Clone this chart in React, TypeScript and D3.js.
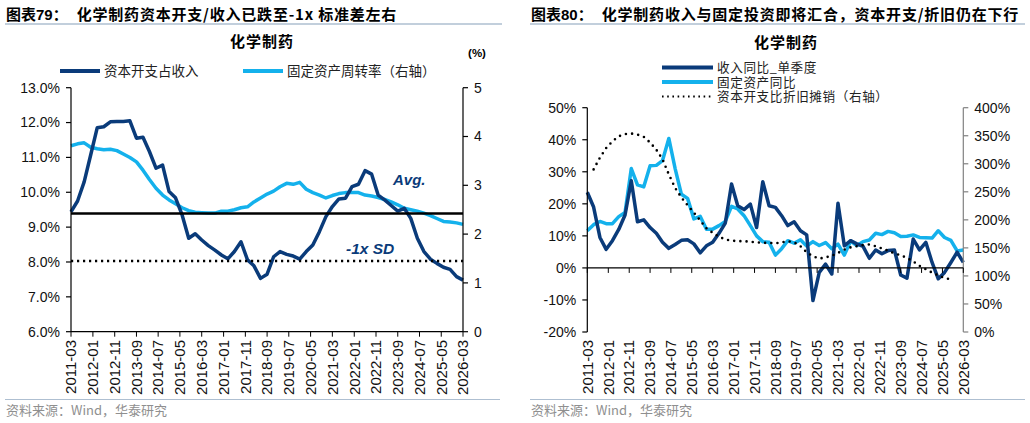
import React from 'react';
import * as d3 from 'd3';

// x-axis tick labels (every 10 months)
const tickLabels = [
  '2011-03', '2012-01', '2012-11', '2013-09', '2014-07', '2015-05', '2016-03',
  '2017-01', '2017-11', '2018-09', '2019-07', '2020-05', '2021-03', '2022-01',
  '2022-11', '2023-09', '2024-07', '2025-05', '2026-03',
];

// quarterly observation dates, 2011-03 .. 2026-03
const quarters = d3.range(61).map((i) => {
  const m = 2 + 3 * i;
  return `${2011 + Math.floor(m / 12)}-${String((m % 12) + 1).padStart(2, '0')}`;
});

// 资本开支占收入 (%)
const capexToRevenue = [
  9.44, 9.75, 10.3, 11.07, 11.85, 11.88, 12.02, 12.03, 12.03, 12.05,
  11.55, 11.58, 11.17, 10.69, 10.78, 10.02, 9.84, 9.35, 8.68, 8.81,
  8.63, 8.47, 8.34, 8.2, 8.09, 8.3, 8.58, 8.06, 7.89, 7.53,
  7.65, 8.15, 8.3, 8.22, 8.17, 8.08, 8.3, 8.49, 8.87, 9.3,
  9.59, 9.81, 9.83, 10.16, 10.23, 10.62, 10.52, 9.92, 9.78, 9.62,
  9.46, 9.54, 9.25, 8.68, 8.3, 8.08, 7.96, 7.85, 7.79, 7.58, 7.48,
];
// 固定资产周转率 (right axis)
const assetTurnover = [
  3.81, 3.85, 3.87, 3.78, 3.75, 3.73, 3.74, 3.71, 3.64, 3.57,
  3.48, 3.31, 3.12, 2.94, 2.8, 2.7, 2.62, 2.54, 2.48, 2.45,
  2.44, 2.43, 2.43, 2.47, 2.47, 2.5, 2.54, 2.56, 2.66, 2.74,
  2.82, 2.88, 2.97, 3.04, 3.02, 3.06, 2.92, 2.85, 2.8, 2.74,
  2.79, 2.83, 2.85, 2.85, 2.85, 2.8, 2.78, 2.75, 2.71, 2.66,
  2.6, 2.53, 2.5, 2.47, 2.43, 2.38, 2.32, 2.26, 2.25, 2.23, 2.2,
];
const capexAvg = 9.39;
const capexMinus1Sd = 8.03;

// 收入同比_单季度 (%)
const revenueYoY = [
  23.6, 19, 9.5, 5.8, 8.5, 12, 16.5, 27.2, 14.4, 15,
  12.6, 10.8, 8.0, 6.1, 7.3, 8.6, 8.8, 7.5, 4.7, 6.9,
  8.0, 10.8, 14, 26.2, 19.4, 18.2, 19.9, 12.6, 26.9, 19.4,
  18.9, 16.3, 13.2, 14.4, 11.6, 10.3, -10.2, -1.4, 1.2, -1.9,
  20.2, 6.9, 8.5, 7.5, 6.7, 3.0, 5.6, 4.4, 5.4, 5.6,
  -2.2, -3.2, 9.0, 5.6, 8.0, 1.7, -3.4, -1.4, 1.7, 4.9, 1.7,
];
// 固定资产同比 (%)
const fixedAssetYoY = [
  11.6, 13.5, 14.5, 13.8, 13.8, 16, 17.3, 31, 25.9, 25.3,
  31.9, 32, 33.5, 40.4, 31, 23, 21.7, 15.3, 16.1, 12.1,
  12.1, 13.2, 14.5, 19.2, 18.4, 16.3, 13.2, 10, 8.2, 8.0,
  4.0, 6.0, 8.5, 7.7, 8.8, 6.8, 8.2, 7.0, 7.9, 6.0,
  7.4, 4.0, 8.4, 7.0, 8.2, 8.7, 10.8, 10.4, 11.4, 11.0,
  9.8, 9.9, 10.3, 9.5, 9.4, 9.3, 11.6, 9.5, 8.6, 5.3, 5.6,
];
// 资本开支比折旧摊销 (%, right axis)
const capexToDA: (number | null)[] = [
  null, 290, 311, 328, 340, 349, 353, 354, 352, 348,
  338, 325, 308, 281, 257, 240, 226, 213, 199, 185,
  177, 170, 165, 163, 162, 162, 161, 160, 159, 159,
  158, 160, 162, 160, 153, 142, 135, 131, 133, 136,
  141, 147, 151, 153, 155, 156, 153, 149, 145, 140,
  137, 132, 126, 118, 112, 106, 101, 96, 94, null, null,
];

const leftTicks = [6, 7, 8, 9, 10, 11, 12, 13];
const leftRightTicks = [0, 1, 2, 3, 4, 5];
const rightTicks = [-20, -10, 0, 10, 20, 30, 40, 50];
const rightRightTicks = [0, 50, 100, 150, 200, 250, 300, 350, 400];

const DARK = '#0a3b7a';
const LIGHT = '#14b1ec';
const NUM = '"Liberation Sans", Arial, sans-serif';
const CJK = '"Noto Sans CJK SC", "Liberation Sans", sans-serif';
const RULE = '#aebfd1';

const parse = d3.timeParse('%Y-%m');
const dates = quarters.map((q) => parse(q) as Date);
const makeX = (r: [number, number]) =>
  d3.scaleTime().domain([parse('2011-03') as Date, parse('2026-03') as Date]).range(r);

type Scale = (v: number) => number;

function seriesPath(x: d3.ScaleTime<number, number>, y: Scale, vals: (number | null)[]) {
  const line = d3
    .line<number | null>()
    .defined((d) => d != null)
    .x((_, i) => x(dates[i]))
    .y((d) => y(d as number));
  return line(vals) || '';
}

function XLabels({ x, y0, top }: { x: d3.ScaleTime<number, number>; y0: number; top: number }) {
  return (
    <g>
      {tickLabels.map((t) => {
        const px = x(parse(t) as Date);
        return (
          <g key={t}>
            <line x1={px} x2={px} y1={y0} y2={y0 + 5} stroke="#000" />
            <text
              transform={`translate(${px},${top}) rotate(-90)`}
              textAnchor="end"
              dy="0.35em"
              fontFamily={NUM}
              fontSize={15}
              fill="#111"
            >
              {t}
            </text>
          </g>
        );
      })}
    </g>
  );
}

function YAxis({ ticks, y, ax, side, fmt, color = '#000', top, bottom }: {
  ticks: number[]; y: Scale; ax: number; side: 'left' | 'right'; fmt: (v: number) => string;
  color?: string; top: number; bottom: number;
}) {
  const dir = side === 'left' ? -1 : 1;
  return (
    <g>
      <line x1={ax} x2={ax} y1={top} y2={bottom} stroke={color} strokeWidth={1.2} />
      {ticks.map((t) => (
        <g key={t}>
          <line x1={ax} x2={ax + dir * 5} y1={y(t)} y2={y(t)} stroke={color} strokeWidth={1.2} />
          <text
            x={ax + dir * 11}
            y={y(t)}
            dy="0.35em"
            textAnchor={side === 'left' ? 'end' : 'start'}
            fontFamily={NUM}
            fontSize={14}
            fill="#111"
          >
            {fmt(t)}
          </text>
        </g>
      ))}
    </g>
  );
}

function Header({ x, no, title, rule }: { x: number; no: string; title: string; rule: [number, number] }) {
  return (
    <g>
      <text x={x} y={20} fontFamily={CJK} fontSize={15} fontWeight="bold" fill="#000">
        <tspan fontFamily={`"Liberation Sans", ${CJK}`}>{`图表${no}：`}</tspan>
        <tspan dx={9} letterSpacing={0.8}>{title}</tspan>
      </text>
      <line x1={rule[0]} x2={rule[1]} y1={24} y2={24} stroke={RULE} strokeWidth={1.5} />
    </g>
  );
}

function Source({ x, rule }: { x: number; rule: [number, number] }) {
  return (
    <g>
      <line x1={rule[0]} x2={rule[1]} y1={399.5} y2={399.5} stroke={RULE} strokeWidth={1.2} />
      <text x={x} y={415} fontFamily={CJK} fontSize={13} fill="#8f8f8f">
        资料来源：Wind，华泰研究
      </text>
    </g>
  );
}

function LeftPanel() {
  const x = makeX([71, 463]);
  const top = 87.7;
  const bottom = 331.7;
  const y = d3.scaleLinear().domain([6, 13]).range([bottom, top]);
  const y2 = d3.scaleLinear().domain([0, 5]).range([bottom, top]);
  return (
    <g>
      <Header x={6} no="79" title="化学制药资本开支/收入已跌至-1x 标准差左右" rule={[5, 502]} />
      <text x={262} y={47} textAnchor="middle" fontFamily={CJK} fontSize={15} fontWeight="bold" letterSpacing={1}>
        化学制药
      </text>
      <text x={477} y={57} textAnchor="middle" fontFamily={NUM} fontSize={11.5} fontWeight="bold">
        (%)
      </text>

      <line x1={60} x2={100} y1={71} y2={71} stroke={DARK} strokeWidth={4} />
      <text x={104} y={71} dy="0.36em" fontFamily={CJK} fontSize={13.5} fill="#222">资本开支占收入</text>
      <line x1={243} x2={283} y1={71} y2={71} stroke={LIGHT} strokeWidth={4} />
      <text x={287} y={71} dy="0.36em" fontFamily={CJK} fontSize={13.5} fill="#222">固定资产周转率（右轴）</text>

      <path d={seriesPath(x, y2, assetTurnover)} fill="none" stroke={LIGHT} strokeWidth={3.5} strokeLinejoin="round" />
      <path d={seriesPath(x, y, capexToRevenue)} fill="none" stroke={DARK} strokeWidth={3.5} strokeLinejoin="round" />

      <line x1={71} x2={463} y1={y(capexAvg)} y2={y(capexAvg)} stroke="#000" strokeWidth={2.6} />
      <line x1={71} x2={463} y1={y(capexMinus1Sd)} y2={y(capexMinus1Sd)} stroke="#000" strokeWidth={2.4} strokeDasharray="2.2 3.8" />

      <text x={393} y={185} fontFamily={NUM} fontSize={15} fontWeight="bold" fontStyle="italic" fill={DARK}>Avg.</text>
      <text x={346} y={254} fontFamily={NUM} fontSize={15.5} fontWeight="bold" fontStyle="italic" fill={DARK}>-1x SD</text>

      <YAxis ticks={leftTicks} y={y} ax={71} side="left" fmt={(v) => `${v.toFixed(1)}%`} top={top} bottom={bottom} />
      <YAxis ticks={leftRightTicks} y={y2} ax={463} side="right" fmt={(v) => `${v}`} top={top} bottom={bottom} />
      <line x1={71} x2={463} y1={bottom} y2={bottom} stroke="#000" strokeWidth={1.2} />
      <XLabels x={x} y0={bottom} top={340} />
      <Source x={6} rule={[5, 500]} />
    </g>
  );
}

function RightPanel() {
  const x = makeX([587.3, 963.3]);
  const top = 107.7;
  const bottom = 332;
  const y = d3.scaleLinear().domain([-20, 50]).range([bottom, top]);
  const y2 = d3.scaleLinear().domain([0, 400]).range([bottom, top]);
  const legend = [
    { label: '收入同比_单季度', color: DARK, dash: undefined, w: 4, ly: 67.5 },
    { label: '固定资产同比', color: LIGHT, dash: undefined, w: 4, ly: 82 },
    { label: '资本开支比折旧摊销（右轴）', color: '#000', dash: '1.6 3.6', w: 1.8, ly: 96.5 },
  ];
  return (
    <g>
      <Header x={531} no="80" title="化学制药收入与固定投资即将汇合，资本开支/折旧仍在下行" rule={[530, 1025]} />
      <text x={786} y={48} textAnchor="middle" fontFamily={CJK} fontSize={15} fontWeight="bold" letterSpacing={1}>
        化学制药
      </text>
      {legend.map((l) => (
        <g key={l.label}>
          <line x1={662} x2={713} y1={l.ly} y2={l.ly} stroke={l.color} strokeWidth={l.w} strokeDasharray={l.dash} />
          <text x={717} y={l.ly} dy="0.36em" fontFamily={CJK} fontSize={12.6} letterSpacing={0.6} fill="#222">{l.label}</text>
        </g>
      ))}

      <path d={seriesPath(x, y, fixedAssetYoY)} fill="none" stroke={LIGHT} strokeWidth={3.5} strokeLinejoin="round" />
      <path d={seriesPath(x, y, revenueYoY)} fill="none" stroke={DARK} strokeWidth={3.5} strokeLinejoin="round" />
      <path d={seriesPath(x, y2, capexToDA)} fill="none" stroke="#000" strokeWidth={2.6} strokeDasharray="0 6.2" strokeLinecap="round" />

      <YAxis ticks={rightTicks} y={y} ax={587.3} side="left" fmt={(v) => `${v}%`} top={top} bottom={bottom} />
      <YAxis ticks={rightRightTicks} y={y2} ax={963.3} side="right" fmt={(v) => `${v}%`} color="#808080" top={top} bottom={bottom} />
      <line x1={587.3} x2={963.3} y1={y(0)} y2={y(0)} stroke="#000" strokeWidth={1.2} />
      <XLabels x={x} y0={y(0)} top={340} />
      <Source x={531} rule={[530, 1025]} />
    </g>
  );
}

export default function App() {
  return (
    <div style={{ position: 'fixed', left: 0, top: 0, background: '#fff' }}>
      <svg width={1030} height={423} viewBox="0 0 1030 423" style={{ display: 'block' }}>
        <rect width={1030} height={423} fill="#fff" />
        <LeftPanel />
        <RightPanel />
      </svg>
    </div>
  );
}
